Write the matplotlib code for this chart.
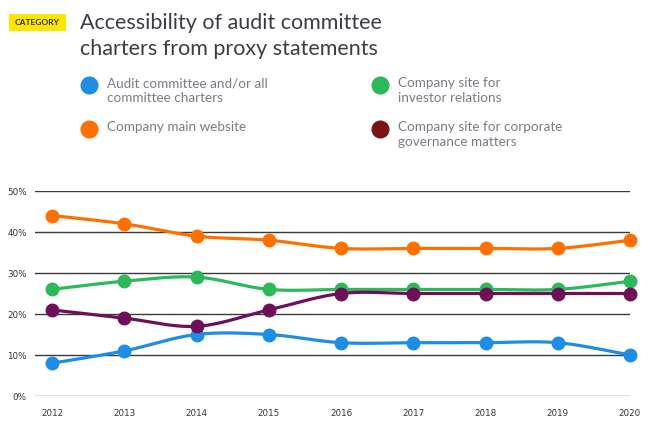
import numpy as np
import matplotlib
matplotlib.use("Agg")
import matplotlib.pyplot as plt
from matplotlib.patches import Rectangle
from matplotlib.lines import Line2D

years = [2012, 2013, 2014, 2015, 2016, 2017, 2018, 2019, 2020]
audit_committee = [8, 11, 15, 15, 13, 13, 13, 13, 10]
main_website = [44, 42, 39, 38, 36, 36, 36, 36, 38]
investor_relations = [26, 28, 29, 26, 26, 26, 26, 26, 28]
corp_governance = [21, 19, 17, 21, 25, 25, 25, 25, 25]
y_ticks = [0, 10, 20, 30, 40, 50]
y_tick_labels = ["0%", "10%", "20%", "30%", "40%", "50%"]

series = [
    (audit_committee, "#1e8de6", "#1e8de6"),
    (main_website, "#ff7000", "#ff7000"),
    (investor_relations, "#2db85a", "#2db85a"),
    (corp_governance, "#6e0f57", "#7a1216"),
]
legend_labels = [
    "Audit committee and/or all\ncommittee charters",
    "Company main website",
    "Company site for\ninvestor relations",
    "Company site for corporate\ngovernance matters",
]

plt.rcParams['font.family'] = ['Lato', 'DejaVu Sans']

def smooth(x, y, n=30, tension=0.5):
    x = np.asarray(x, float); y = np.asarray(y, float)
    xs, ys = [], []
    for i in range(len(x) - 1):
        p0 = (x[i-1], y[i-1]) if i > 0 else (x[i], y[i])
        p1 = (x[i], y[i]); p2 = (x[i+1], y[i+1])
        p3 = (x[i+2], y[i+2]) if i + 2 < len(x) else (x[i+1], y[i+1])
        t = np.linspace(0, 1, n)
        for k in range(2):
            m1 = tension * (p2[k] - p0[k])
            m2 = tension * (p3[k] - p1[k])
            h00 = 2*t**3 - 3*t**2 + 1; h10 = t**3 - 2*t**2 + t
            h01 = -2*t**3 + 3*t**2; h11 = t**3 - t**2
            v = h00*p1[k] + h10*m1 + h01*p2[k] + h11*m2
            (xs if k == 0 else ys).append(v)
    return np.concatenate(xs), np.concatenate(ys)

W, H = 653, 423
fig = plt.figure(figsize=(W/100, H/100), dpi=100)

ax_left, ax_right, ax_top, ax_bot = 35, 630, 191, 396
ax = fig.add_axes([ax_left/W, 1 - ax_bot/H, (ax_right-ax_left)/W, (ax_bot-ax_top)/H])
x0 = 2012 - (52 - 35) / ((630 - 52) / 8)
ax.set_xlim(x0, 2020)
ax.set_ylim(0, 50)
for s in ax.spines.values():
    s.set_visible(False)
ax.set_yticks(y_ticks)
ax.set_yticklabels(y_tick_labels, fontfamily='DejaVu Sans')
ax.set_xticks(years)
ax.set_xticklabels([str(y) for y in years], fontfamily='DejaVu Sans')
ax.yaxis.grid(True, color="#3a3a3a", linewidth=1.0)
ax.set_axisbelow(True)
gl = ax.get_ygridlines()
gl[0].set_color("#6a6a6a")
ax.tick_params(axis='y', length=0, pad=6, labelsize=6.3, labelcolor="#333333")
ax.tick_params(axis='x', length=0, pad=9, labelsize=6.3, labelcolor="#333333")

for vals, lc, mc in series:
    sx, sy = smooth(years, vals)
    ax.plot(sx, sy, color=lc, linewidth=2.3, clip_on=False, zorder=3, solid_capstyle='round')
    ax.plot(years, vals, 'o', color=lc, markersize=9, clip_on=False, zorder=4)

# Header
fig.patches.append(Rectangle((9/W, 1 - 31/H), 57/W, 17/H, transform=fig.transFigure,
                             facecolor="#ffe600", edgecolor="none"))
fig.text(37.5/W, 1 - 22.5/H, "CATEGORY", ha='center', va='center', fontsize=6,
         fontweight='bold', color="#2e2e38")
fig.text(80/W, 1 - 23/H, "Accessibility of audit committee", ha='left', va='center',
         fontsize=15.5, color="#3d3d46")
fig.text(80/W, 1 - 49/H, "charters from proxy statements", ha='left', va='center',
         fontsize=15.5, color="#3d3d46")

# Legend
leg_pos = [(89, 85), (89, 129), (380, 85), (380, 129)]
for (cx, cy), (vals, lc, mc), lab in zip(leg_pos, series, legend_labels):
    fig.lines.append(Line2D([cx/W], [1 - cy/H], marker='o', markersize=12,
                            color=mc, transform=fig.transFigure, linestyle='none'))
    fig.text((cx + 18)/W, 1 - (cy - 8)/H, lab, ha='left', va='top', fontsize=9.7,
             color="#7b7b85", linespacing=1.25)

fig.savefig("out.png", dpi=100)
